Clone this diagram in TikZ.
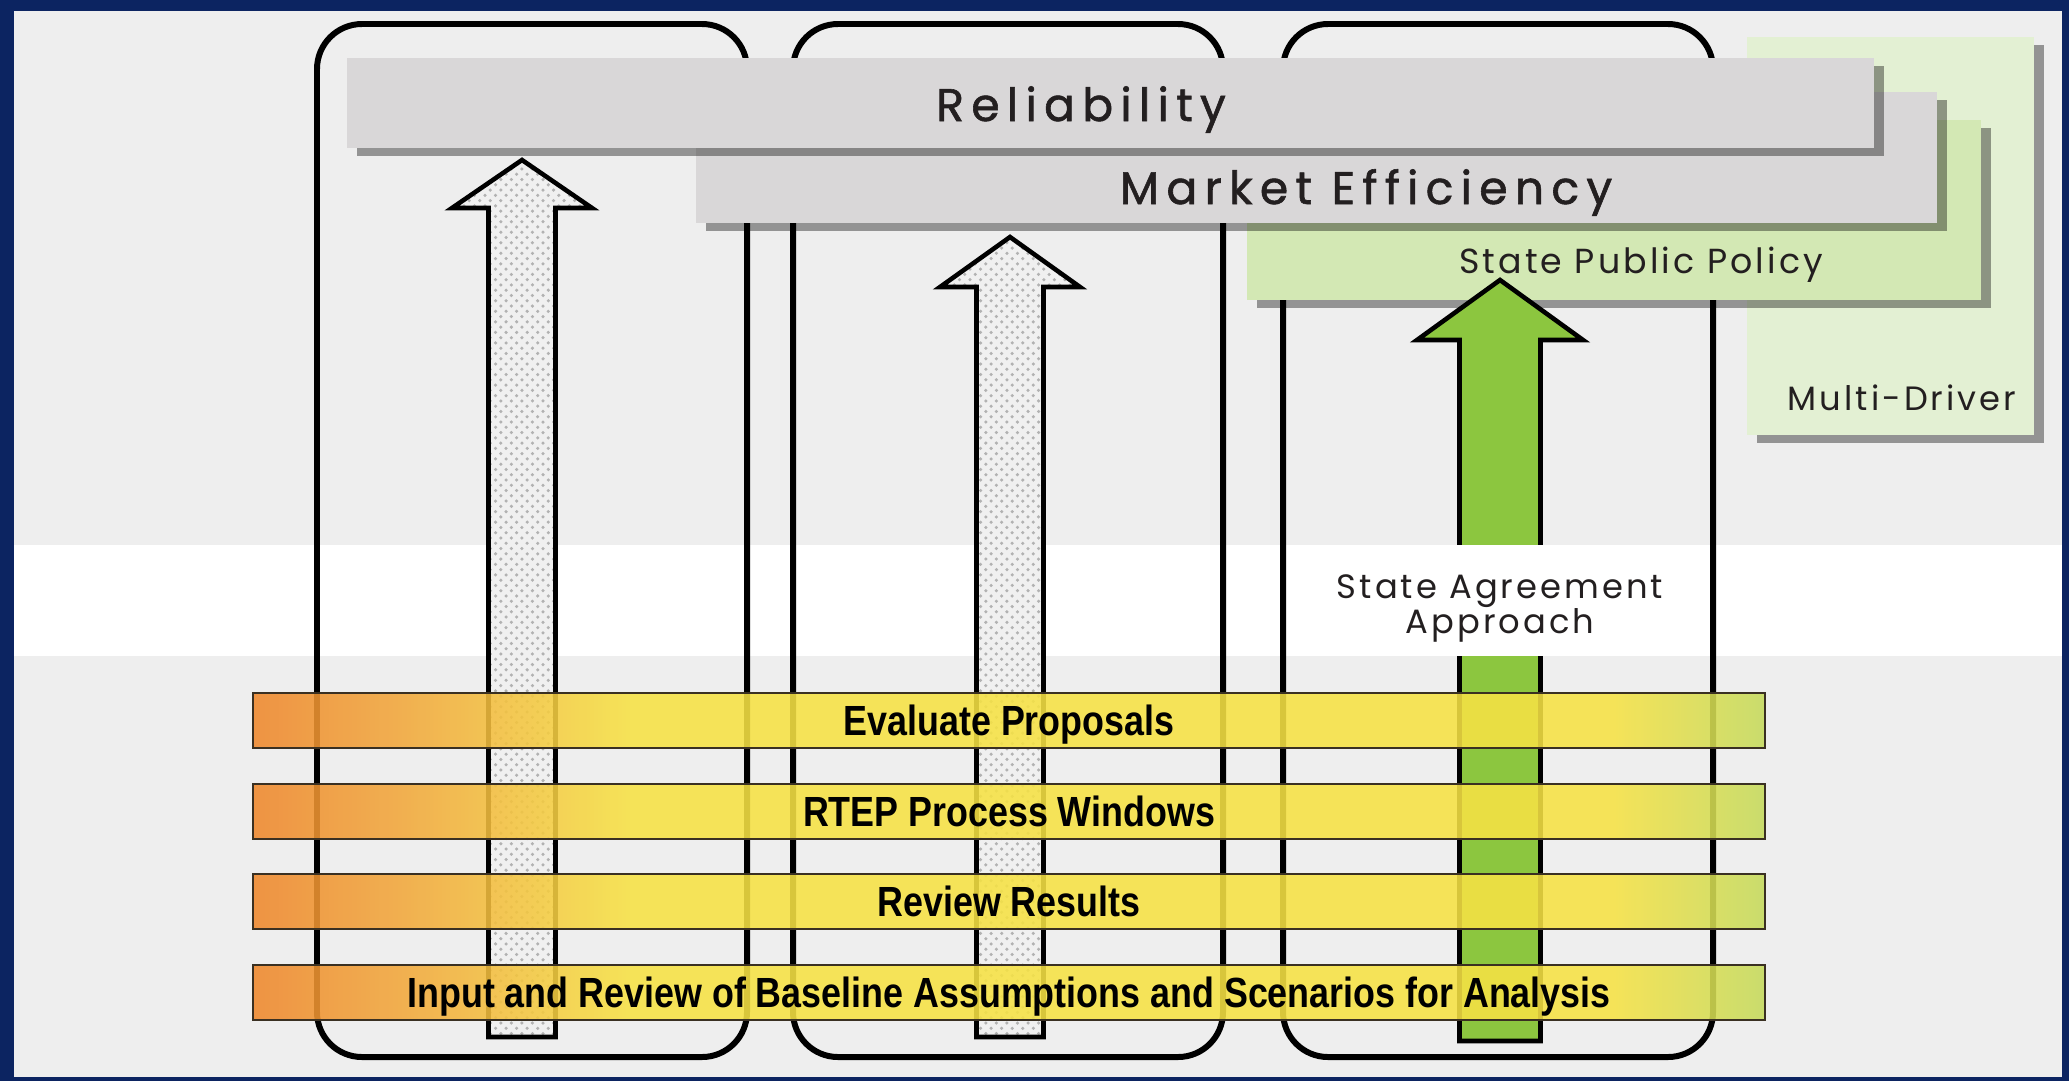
\documentclass[tikz,border=0pt]{standalone}
\usepackage{fontspec}
\usetikzlibrary{patterns}
\newfontfamily\headfont[LetterSpace=16,FakeBold=1.3]{Poppins}
\newfontfamily\tagfont[LetterSpace=9]{Poppins}
\newfontfamily\barfont[FakeStretch=0.85]{Liberation Sans}
\definecolor{framenavy}{HTML}{0C2461}
\definecolor{paper}{HTML}{EEEEEE}
\definecolor{panelgray}{HTML}{D9D7D8}
\definecolor{policygreen}{HTML}{D3E8B4}
\definecolor{multigreen}{HTML}{E3F0D3}
\definecolor{arrowgreen}{HTML}{8CC63F}
\definecolor{barorange}{HTML}{EF872C}
\definecolor{barpeach}{HTML}{F2A83B}
\definecolor{baryellow}{HTML}{F6E244}
\definecolor{barlime}{HTML}{C5DA5C}
\definecolor{bardark}{HTML}{3A3022}
\definecolor{inkdark}{HTML}{231F20}
\pgfdeclarehorizontalshading{barfade}{100bp}{color(0bp)=(barorange); color(25bp)=(barorange); color(30bp)=(barpeach); color(37.5bp)=(baryellow); color(70bp)=(baryellow); color(75bp)=(barlime); color(100bp)=(barlime)}
\newcommand{\drawuparrow}[7][]{%
  \draw[#1] (#2-#3,#7) -- (#2-#3,#6) -- (#2-#4,#6) -- (#2,#5) -- (#2+#4,#6) -- (#2+#3,#6) -- (#2+#3,#7) -- cycle;}
\newcommand{\panel}[5]{%
  \fill[black, opacity=.38] (#1+10,#2+8) rectangle (#3+10,#4+8);
  \fill[#5] (#1,#2) rectangle (#3,#4);}

\begin{document}
\begin{tikzpicture}[x=0.1mm, y=-0.1mm,
  column/.style={draw=black, line width=1.7pt, rounded corners=4.5mm},
  grayarrow/.style={draw=black, line width=1.3pt, preaction={fill=gray!12}, pattern=crosshatch dots, pattern color=gray!60},
  procbar/.style={draw=bardark, line width=0.8pt, shading=barfade, fill opacity=0.88, text opacity=1, minimum width=151.2mm, minimum height=5.5mm, inner sep=0pt, text height=8.6pt, text depth=0pt, text=black, font=\barfont\bfseries\fontsize{12}{14}\selectfont},
  headlbl/.style={anchor=base, inner sep=0pt, text=inkdark, font=\headfont\fontsize{13}{15}\selectfont},
  taglbl/.style={anchor=base, inner sep=0pt, text=inkdark, font=\tagfont\fontsize{9.6}{11}\selectfont}]

\useasboundingbox (0,0) rectangle (2069,1081);
\fill[framenavy] (0,0) rectangle (2069,1081);
\fill[paper] (14,11) rectangle (2062,1077);
\fill[white] (14,545) rectangle (2062,656);

\draw[column] (317,24) rectangle (747,1057);
\draw[column] (793,24) rectangle (1223,1057);
\draw[column] (1283,24) rectangle (1713,1057);

\drawuparrow[grayarrow]{522}{33.5}{70}{160}{208}{1037}
\drawuparrow[grayarrow]{1010}{33.5}{70}{237}{287}{1037}

\panel{1747}{37}{2034}{435}{multigreen}
\panel{1247}{120}{1981}{300}{policygreen}
\panel{696}{92}{1937}{223}{panelgray}
\panel{347}{58}{1874}{148}{panelgray}

\drawuparrow[fill=arrowgreen, draw=black, line width=1.3pt]{1500}{40.5}{83}{280}{340}{1041}
\fill[white] (1445,545) rectangle (1555,656);

\node[headlbl] (relT) at (1081,121) {Reliability};
\node[headlbl] (mktT) at (1366,204) {Market Efficiency};
\node[taglbl, font=\tagfont\fontsize{9.9}{11}\selectfont] (sppT) at (1641,273) {State Public Policy};
\node[taglbl] (mdrT) at (1902,410) {Multi-Driver};
\node[taglbl] (saaT) at (1500,598) {State Agreement};
\node[taglbl] (saaT2) at (1500,633) {Approach};

\node[procbar] (evalbar) at (1009,720.5) {Evaluate Proposals};
\node[procbar] (rtepbar) at (1009,811.5) {RTEP Process Windows};
\node[procbar] (revbar) at (1009,901.5) {Review Results};
\node[procbar] (inputbar) at (1009,992.5) {Input and Review of Baseline Assumptions and Scenarios for Analysis};

\end{tikzpicture}
\end{document}
